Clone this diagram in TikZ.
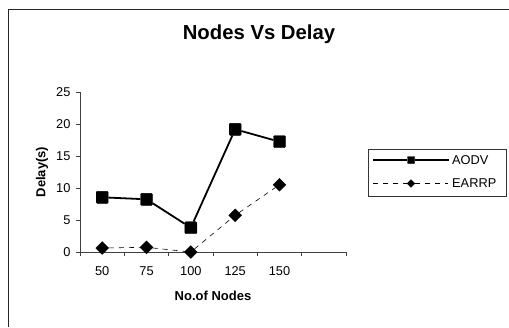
\documentclass[tikz,border=0pt]{standalone}
\usepackage{fontspec}
\setmainfont{Liberation Sans}
\usetikzlibrary{shapes.geometric}
\begin{document}
\begin{tikzpicture}[x=1pt,y=-1pt,
  sq/.style={rectangle,draw=black,fill=black,minimum size=12pt,inner sep=0pt,rounded corners=1pt},
  dia/.style={diamond,draw=black,fill=black,minimum width=13pt,minimum height=13pt,inner sep=0pt,aspect=1},
  lsq/.style={sq,minimum size=7pt,rounded corners=0.5pt},
  ldia/.style={dia,minimum width=8pt,minimum height=8pt},
  aodvline/.style={line width=1.8pt,black},
  earrpline/.style={line width=0.6pt,black,dash pattern=on 5pt off 5pt},
  ticklbl/.style={font=\fontsize{12.8}{14}\selectfont},
  axlbl/.style={font=\fontsize{13}{15}\selectfont\bfseries},
  axisline/.style={line width=0.7pt,black!75}]
\useasboundingbox (0,0) rectangle (509,327);
\fill[white] (0,0) rectangle (509,327);
% chart frame
\draw[line width=0.8pt,black!85] (8.5,327) -- (8.5,9.5) -- (509,9.5);
% title
\node[font=\fontsize{20.3}{23}\selectfont\bfseries] (title) at (259,34) {Nodes Vs Delay};
% axes
\coordinate (o) at (80,252);
\coordinate (ytop) at (80,92);
\coordinate (xend) at (346,252);
\draw[axisline] (ytop) -- (o) -- (xend);
\foreach \v in {0,5,...,25}{
  \draw[axisline] (76,{252-6.4*\v}) -- (80,{252-6.4*\v});
  \node[ticklbl,anchor=east] (yl\v) at (74,{252-6.4*\v}) {\v};
}
\foreach \i in {0,...,6}{
  \draw[axisline] ({80+44.33*\i},252) -- ({80+44.33*\i},256);
}
\foreach \lab [count=\i from 0] in {50,75,100,125,150}{
  \node[ticklbl] (xl\lab) at ({102.2+44.33*\i},271) {\lab};
}
\node[axlbl,rotate=90] (ylab) at (42,172) {Delay(s)};
\node[axlbl] (xlab) at (213,296) {No.of Nodes};
% EARRP data
\node[dia] (e1) at (102.2,248) {};
\node[dia] (e2) at (146.5,247.3) {};
\node[dia] (e3) at (190.8,252) {};
\node[dia] (e4) at (235.2,215.3) {};
\node[dia] (e5) at (279.5,184.7) {};
\draw[earrpline] (e1) -- (e2) -- (e3) -- (e4) -- (e5);
% AODV data
\node[sq] (a1) at (102.2,197.3) {};
\node[sq] (a2) at (146.5,199.3) {};
\node[sq] (a3) at (190.8,227.7) {};
\node[sq] (a4) at (235.2,129.3) {};
\node[sq] (a5) at (279.5,141.7) {};
\draw[aodvline] (a1) -- (a2) -- (a3) -- (a4) -- (a5);
% legend
\node[draw=black!80,line width=0.7pt,minimum width=138pt,minimum height=47pt,inner sep=0pt,anchor=north west] (legend) at (367.5,149) {};
\node[lsq] (la) at (411,160) {};
\node[ldia] (le) at (411,183.5) {};
\coordinate (la0) at (373,160);
\coordinate (la1) at (449,160);
\coordinate (le0) at (373,183.5);
\coordinate (le1) at (448,183.5);
\draw[line width=1.5pt] (la0) -- (la) -- (la1);
\draw[earrpline] (le0) -- (le) -- (le1);
\node[ticklbl,anchor=west,inner sep=0pt] (lta) at (452,160) {AODV};
\node[ticklbl,anchor=west,inner sep=0pt] (lte) at (452,183.5) {EARRP};
\end{tikzpicture}
\end{document}
